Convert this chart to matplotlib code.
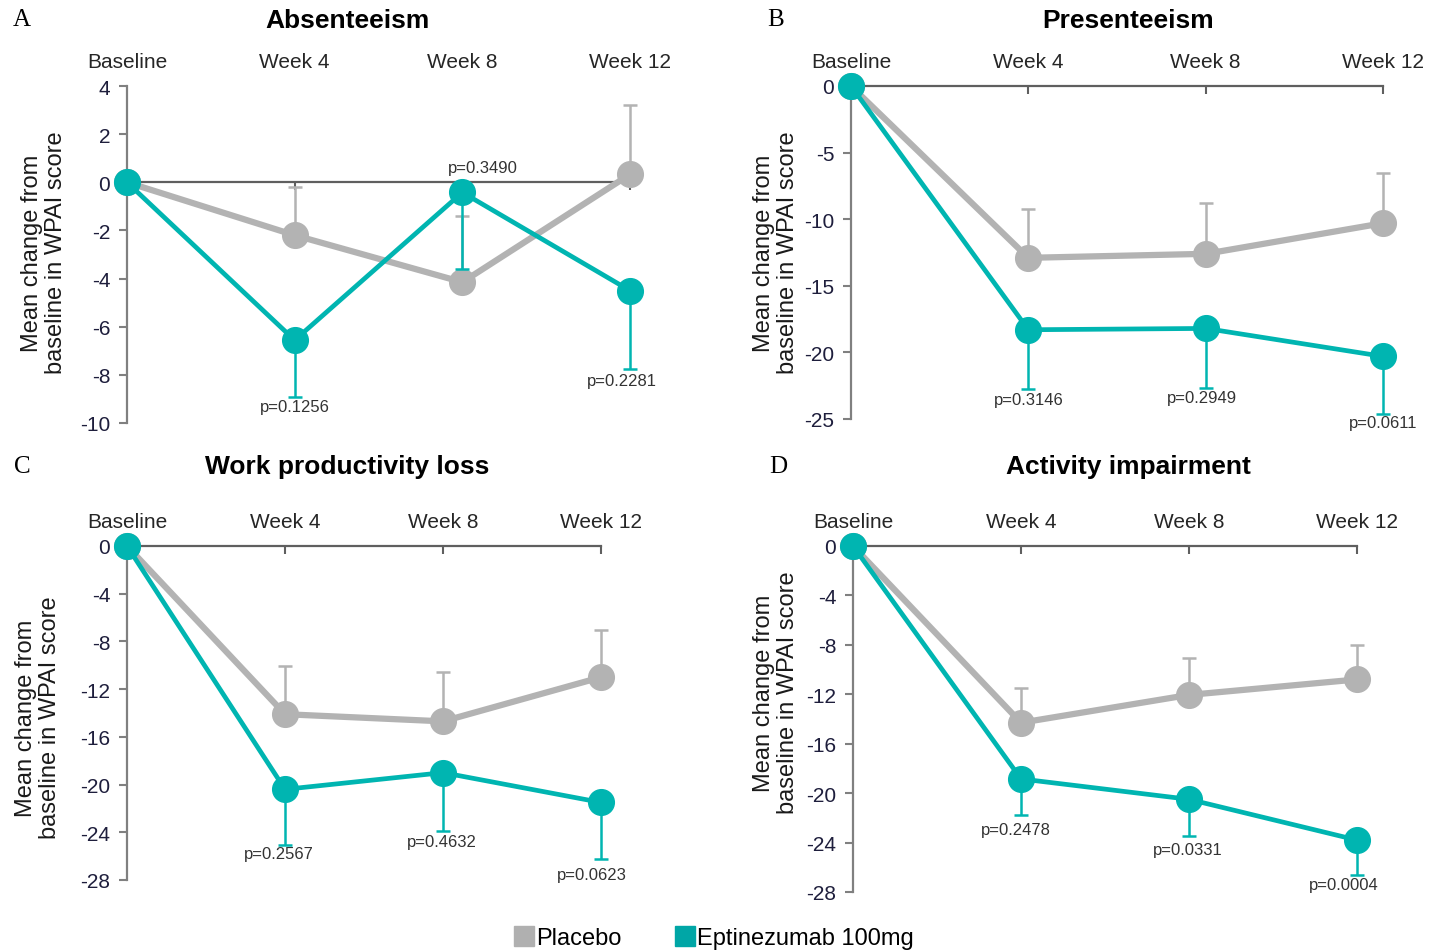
import matplotlib
matplotlib.use("Agg")
import matplotlib.pyplot as plt
from matplotlib.lines import Line2D

# ---- data ---------------------------------------------------------------
timepoints = ["Baseline", "Week 4", "Week 8", "Week 12"]

# A: Absenteeism
abs_placebo = [0, -2.2, -4.15, 0.33]
abs_placebo_upper = [None, -0.2, -1.4, 3.2]
abs_ept = [0, -6.56, -0.42, -4.5]
abs_ept_lower = [None, -8.93, -3.6, -7.77]
abs_p = ["p=0.1256", "p=0.3490", "p=0.2281"]

# B: Presenteeism
pre_placebo = [0, -12.9, -12.6, -10.3]
pre_placebo_upper = [None, -9.2, -8.8, -6.5]
pre_ept = [0, -18.3, -18.2, -20.3]
pre_ept_lower = [None, -22.75, -22.7, -24.6]
pre_p = ["p=0.3146", "p=0.2949", "p=0.0611"]

# C: Work productivity loss
wpl_placebo = [0, -14.1, -14.7, -11.0]
wpl_placebo_upper = [None, -10.1, -10.6, -7.0]
wpl_ept = [0, -20.4, -19.0, -21.5]
wpl_ept_lower = [None, -25.1, -23.9, -26.2]
wpl_p = ["p=0.2567", "p=0.4632", "p=0.0623"]

# D: Activity impairment
act_placebo = [0, -14.3, -12.05, -10.8]
act_placebo_upper = [None, -11.5, -9.05, -8.0]
act_ept = [0, -18.85, -20.5, -23.8]
act_ept_lower = [None, -21.8, -23.5, -26.6]
act_p = ["p=0.2478", "p=0.0331", "p=0.0004"]

# ---- style --------------------------------------------------------------
W, H = 1430, 953
GREY = "#B3B3B3"
TEAL = "#00B5B1"
SPINE = "#808080"
ZERO = "#5F5F5F"
TICKC = "#1E1E3C"
SANS = ["Liberation Sans", "DejaVu Sans"]
SERIF = ["Liberation Serif", "DejaVu Serif"]

plt.rcParams["font.family"] = SANS

fig = plt.figure(figsize=(W / 100, H / 100), dpi=100)


def px_axes(x0, x1, ytop, ybot):
    return fig.add_axes([x0 / W, 1 - ybot / H, (x1 - x0) / W, (ybot - ytop) / H])


def panel(box, ylim, yticks, placebo, p_upper, ept, e_lower, pvals, p_off):
    ax = px_axes(*box)
    x = list(range(len(timepoints)))
    ax.set_xlim(0, 3)
    ax.set_ylim(*ylim)

    for s in ["top", "right", "bottom"]:
        ax.spines[s].set_visible(False)
    ax.spines["left"].set_color(SPINE)
    ax.spines["left"].set_linewidth(1.6)

    # category labels above the plot
    ax.xaxis.tick_top()
    ax.set_xticks(x)
    ax.set_xticklabels(timepoints, fontsize=15, color="#262626")
    ax.tick_params(axis="x", length=0, pad=11)

    ax.set_yticks(yticks)
    ax.set_yticklabels([str(t) for t in yticks], fontsize=15, color=TICKC)
    ax.tick_params(axis="y", direction="out", length=6, width=1.5,
                   color=SPINE, pad=6)

    # zero reference line with downward ticks
    ax.plot([0, 3], [0, 0], color=ZERO, lw=1.6, clip_on=False, zorder=1)
    ax.plot(x[1:], [0] * 3, linestyle="none", marker=3, markersize=6,
            markeredgewidth=1.5, color=ZERO, clip_on=False, zorder=1)

    # placebo error bars (upward)
    for xi, v, up in zip(x, placebo, p_upper):
        if up is None:
            continue
        ax.errorbar([xi], [v], yerr=[[0], [up - v]], fmt="none",
                    ecolor=GREY, elinewidth=1.8, capsize=5, capthick=1.8,
                    clip_on=False, zorder=2)
    ax.plot(x, placebo, color=GREY, lw=4.5, marker="o", markersize=18.5,
            clip_on=False, zorder=3)

    # eptinezumab error bars (downward)
    for xi, v, lo in zip(x, ept, e_lower):
        if lo is None:
            continue
        ax.errorbar([xi], [v], yerr=[[v - lo], [0]], fmt="none",
                    ecolor=TEAL, elinewidth=1.8, capsize=5, capthick=1.8,
                    clip_on=False, zorder=4)
    ax.plot(x, ept, color=TEAL, lw=3.4, marker="o", markersize=18.5,
            clip_on=False, zorder=5)

    # p-values
    for xi, txt, (dx, ypos) in zip(x[1:], pvals, p_off):
        ax.text(xi + dx, ypos, txt, fontsize=12, color="#333333",
                ha="center", va="center", zorder=6)
    return ax


panel((127, 630, 87, 424), (-10, 4), [4, 2, 0, -2, -4, -6, -8, -10],
      abs_placebo, abs_placebo_upper, abs_ept, abs_ept_lower, abs_p,
      [(0.0, -9.3), (0.12, 0.6), (-0.05, -8.25)])
panel((851, 1383, 87, 420), (-25, 0), [0, -5, -10, -15, -20, -25],
      pre_placebo, pre_placebo_upper, pre_ept, pre_ept_lower, pre_p,
      [(0.0, -23.5), (-0.02, -23.35), (0.0, -25.25)])
panel((127, 601, 547, 881), (-28, 0), [0, -4, -8, -12, -16, -20, -24, -28],
      wpl_placebo, wpl_placebo_upper, wpl_ept, wpl_ept_lower, wpl_p,
      [(-0.04, -25.8), (-0.01, -24.8), (-0.06, -27.5)])
panel((853, 1357, 547, 893), (-28, 0), [0, -4, -8, -12, -16, -20, -24, -28],
      act_placebo, act_placebo_upper, act_ept, act_ept_lower, act_p,
      [(-0.03, -22.95), (-0.01, -24.55), (-0.08, -27.4)])

# panel titles
for txt, cx, cy in [("Absenteeism", 347, 21), ("Presenteeism", 1128, 21),
                    ("Work productivity loss", 347, 467),
                    ("Activity impairment", 1128, 467)]:
    fig.text(cx / W, 1 - cy / H, txt, fontsize=19, fontweight="bold",
             ha="center", va="center", color="black")

# panel letters
for txt, cx, cy in [("A", 22, 20), ("B", 776, 20), ("C", 22, 467), ("D", 778, 467)]:
    fig.text(cx / W, 1 - cy / H, txt, fontsize=18, family=SERIF,
             ha="center", va="center", color="black")

# y-axis labels
ylab = "Mean change from\nbaseline in WPAI score"
for cx, cy in [(44, 253), (776, 253), (38, 718), (776, 693)]:
    fig.text(cx / W, 1 - cy / H, ylab, fontsize=17, rotation=90,
             ha="center", va="center", multialignment="center",
             color="#1a1a1a", linespacing=1.15)

# legend
handles = [
    Line2D([], [], linestyle="none", marker="s", markersize=14,
           markerfacecolor="#B0B0B0", markeredgecolor="#B0B0B0", label="Placebo"),
    Line2D([], [], linestyle="none", marker="s", markersize=14,
           markerfacecolor="#00A6A6", markeredgecolor="#00A6A6",
           label="Eptinezumab 100mg"),
]
fig.legend(handles=handles, loc="center", bbox_to_anchor=(713 / W, 1 - 939 / H),
           ncol=2, frameon=False, fontsize=17, handletextpad=0.0,
           columnspacing=2.2, handlelength=1.0)

fig.savefig("out.png", dpi=100)
